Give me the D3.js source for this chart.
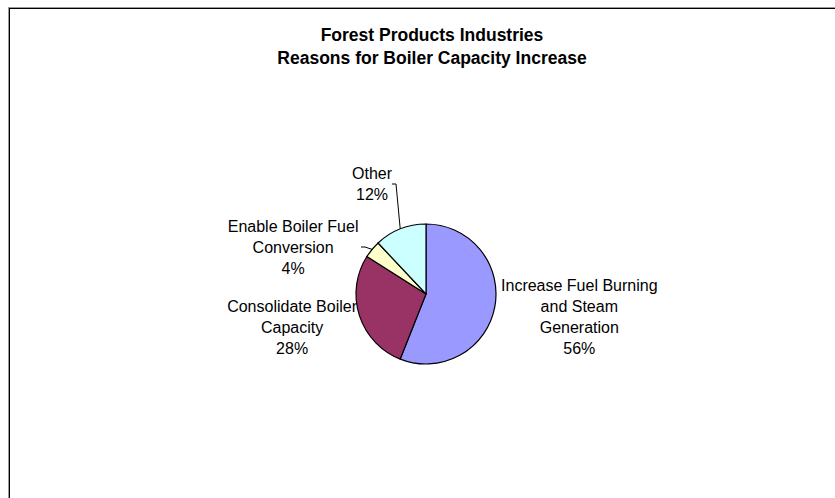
<!DOCTYPE html>
<html>
<head>
<meta charset="utf-8">
<script src="https://cdn.jsdelivr.net/npm/d3@7"></script>
<style>
  html, body { margin: 0; padding: 0; background: #fff; }
  svg { display: block; }
</style>
</head>
<body>
<svg id="chart" width="835" height="498"></svg>
<script>
// Data
const categories = [
  "Increase Fuel Burning and Steam Generation",
  "Consolidate Boiler Capacity",
  "Enable Boiler Fuel Conversion",
  "Other"
];
const values = [56, 28, 4, 12];
const titleLines = ["Forest Products Industries", "Reasons for Boiler Capacity Increase"];
// Wrapped label lines per slice (percentage appended below)
const labelLines = [
  ["Increase Fuel Burning", "and Steam", "Generation"],
  ["Consolidate Boiler", "Capacity"],
  ["Enable Boiler Fuel", "Conversion"],
  ["Other"]
];
const colors = ["#9999FF", "#993366", "#FFFFCC", "#CCFFFF"];

const svg = d3.select("#chart");

// Chart-area frame (continues past right and bottom edges)
svg.append("rect").attr("x", 8.5).attr("y", 7.5).attr("width", 900).attr("height", 600)
  .attr("fill", "none").attr("stroke", "#9a9a9a").attr("stroke-width", 1);
svg.append("rect").attr("x", 9.5).attr("y", 8.5).attr("width", 900).attr("height", 600)
  .attr("fill", "none").attr("stroke", "#000").attr("stroke-width", 1);

// Title
const title = svg.append("text")
  .attr("text-anchor", "middle")
  .attr("font-family", "Liberation Sans, Arial, sans-serif")
  .attr("font-weight", "bold")
  .attr("font-size", 17.5)
  .attr("fill", "#000");
titleLines.forEach((t, i) => {
  title.append("tspan").attr("x", 432).attr("y", 41 + i * 23).text(t);
});

// Pie geometry
const cx = 426, cy = 294, r = 70;
const pie = d3.pie().sort(null).value(d => d)(values);
const arc = d3.arc().innerRadius(0).outerRadius(r);

const g = svg.append("g").attr("transform", `translate(${cx},${cy})`);

// Label placement: polar position (degrees clockwise from 12 o'clock) of each text block centre
const labelPos = [
  { angle: 98.5, dist: 155 },
  { angle: 256, dist: 138 },
  { angle: 289.5, dist: 141 },
  { angle: 334, dist: 123 }
];
const lineH = 21;
const fmt = d3.format(".0%");
const total = d3.sum(values);

const labels = svg.append("g")
  .attr("font-family", "Liberation Sans, Arial, sans-serif")
  .attr("font-size", 16)
  .attr("fill", "#000")
  .attr("text-anchor", "middle");

pie.forEach((d, i) => {
  const a = labelPos[i].angle * Math.PI / 180;
  const lx = cx + labelPos[i].dist * Math.sin(a);
  const ly = cy - labelPos[i].dist * Math.cos(a);
  const lines = labelLines[i].concat([fmt(values[i] / total)]);
  const top = ly - (lines.length - 1) * lineH / 2;
  const t = labels.append("text");
  lines.forEach((s, j) => {
    t.append("tspan").attr("x", lx).attr("y", top + j * lineH).attr("dy", "0.35em").text(s);
  });
});

// Leader lines for the two small slices
const edge = d => {
  const m = (d.startAngle + d.endAngle) / 2;
  return [cx + r * Math.sin(m), cy - r * Math.cos(m)];
};
const leaders = [
  { i: 2, from: [361, 247], mid: [365, 247] },
  { i: 3, from: [392, 184], mid: [396, 184] }
];
leaders.forEach(l => {
  const e = edge(pie[l.i]);
  svg.append("polyline")
    .attr("points", [l.from, l.mid, e].map(p => p.join(",")).join(" "))
    .attr("fill", "none").attr("stroke", "#000").attr("stroke-width", 1);
});

// Slices (drawn over labels)
g.selectAll("path").data(pie).join("path")
  .attr("d", arc)
  .attr("fill", (d, i) => colors[i])
  .attr("stroke", "#000")
  .attr("stroke-width", 1.2)
  .attr("stroke-linejoin", "round");
</script>
</body>
</html>
